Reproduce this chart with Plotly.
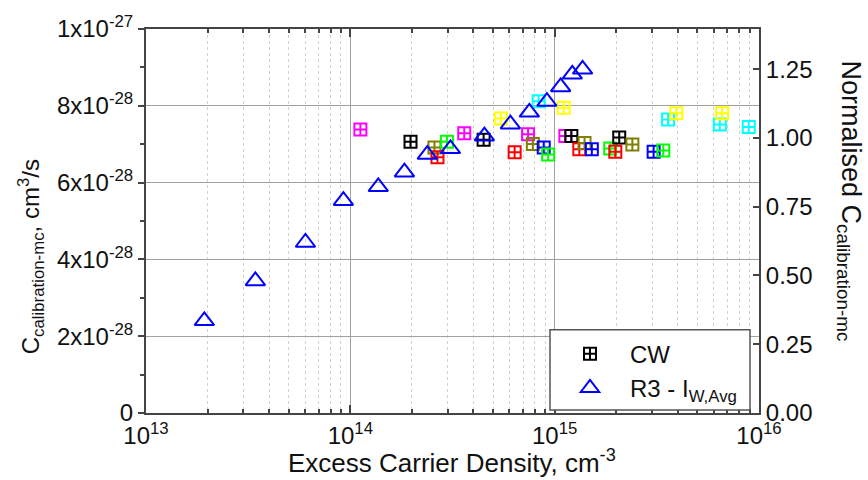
import plotly.graph_objects as go

# ---------------- data ----------------
# R3 - I_W,Avg series (left axis, cm^3/s)
r3_x = [1.93e13, 3.43e13, 6.03e13, 9.25e13, 1.37e14, 1.84e14, 2.38e14, 3.09e14,
        4.53e14, 6.07e14, 7.52e14, 9.16e14, 1.07e15, 1.22e15, 1.37e15]
r3_y = [2.40e-28, 3.44e-28, 4.44e-28, 5.53e-28, 5.89e-28, 6.27e-28, 6.73e-28, 6.88e-28,
        7.21e-28, 7.52e-28, 7.83e-28, 8.11e-28, 8.49e-28, 8.82e-28, 8.95e-28]

# CW series (right axis, normalised)
cw_x = [1.97e14, 1.12e14, 2.58e14, 2.67e14, 2.97e14, 3.61e14, 4.49e14, 5.45e14,
        6.37e14, 7.41e14, 7.82e14, 8.35e14, 8.84e14, 9.29e14, 1.107e15, 1.128e15,
        1.207e15, 1.32e15, 1.40e15, 1.52e15, 1.87e15, 1.98e15, 2.07e15, 2.40e15,
        3.05e15, 3.40e15, 3.59e15, 3.94e15, 6.43e15, 6.60e15, 8.91e15]
cw_y = [0.986, 1.031, 0.965, 0.930, 0.986, 1.017, 0.993, 1.071,
        0.948, 1.013, 0.978, 1.133, 0.965, 0.940, 1.110, 1.007,
        1.007, 0.959, 0.982, 0.959, 0.962, 0.950, 1.002, 0.976,
        0.950, 0.954, 1.067, 1.090, 1.049, 1.090, 1.040]
cw_color = ["#000000", "#ff00ff", "#808000", "#ff0000", "#00ff00", "#ff00ff", "#000000", "#ffff00",
            "#ff0000", "#ff00ff", "#808000", "#00ffff", "#0000ff", "#00ff00", "#ffff00", "#ff00ff",
            "#000000", "#ff0000", "#808000", "#0000ff", "#00ff00", "#ff0000", "#000000", "#808000",
            "#0000ff", "#00ff00", "#00ffff", "#ffff00", "#00ffff", "#ffff00", "#00ffff"]

x_tickvals = [1e13, 1e14, 1e15, 1e16]
x_ticktext = ["10<sup>13</sup>", "10<sup>14</sup>", "10<sup>15</sup>", "10<sup>16</sup>"]
x_minor = [m * 10 ** e for e in (13, 14, 15) for m in range(2, 10)]

yl_tickvals = [0, 2e-28, 4e-28, 6e-28, 8e-28, 1e-27]
yl_ticktext = ["0", "2x10<sup>-28</sup>", "4x10<sup>-28</sup>", "6x10<sup>-28</sup>",
               "8x10<sup>-28</sup>", "1x10<sup>-27</sup>"]
yl_minor = [1e-28, 3e-28, 5e-28, 7e-28, 9e-28]

yr_tickvals = [0, 0.25, 0.5, 0.75, 1.0, 1.25]
yr_ticktext = ["0.00", "0.25", "0.50", "0.75", "1.00", "1.25"]

FONT = "Liberation Sans, Arial, sans-serif"

fig = go.Figure()

fig.add_trace(go.Scatter(
    x=cw_x, y=cw_y, mode="markers", name="CW", yaxis="y",
    marker=dict(symbol="square-cross-open", size=12, color=cw_color,
                line=dict(width=2)),
))
fig.add_trace(go.Scatter(
    x=r3_x, y=r3_y, mode="markers", name="R3 - I<sub>W,Avg</sub>", yaxis="y2",
    marker=dict(symbol="triangle-up-open", size=17, color="#0000ff",
                line=dict(width=2)),
))

L, R, T, B = 146, 109, 21, 67
W, H = 868, 480
pw, ph = W - L - R, H - T - B


def px(xp):
    return (xp - L) / pw


def py(yp):
    return (H - B - yp) / ph


fig.update_layout(
    width=W, height=H,
    margin=dict(l=L, r=R, t=T, b=B, pad=0),
    paper_bgcolor="white", plot_bgcolor="white",
    font=dict(family=FONT, size=24, color="#111"),
    showlegend=True,
    xaxis=dict(
        type="log", range=[13, 16],
        tickvals=x_tickvals, ticktext=x_ticktext,
        ticks="inside", ticklen=8, tickwidth=1.5, tickcolor="#444",
        showline=True, linecolor="#444", linewidth=2, mirror="ticks",
        showgrid=True, gridcolor="#a0a0a0", gridwidth=1,
        tickfont=dict(size=24),
        minor=dict(tickvals=x_minor, ticks="inside", ticklen=4, tickcolor="#444",
                   showgrid=True, gridcolor="#d0d0d0", griddash="dot", gridwidth=1),
        zeroline=False,
    ),
    yaxis=dict(
        side="right", range=[0, 1.396],
        tickvals=yr_tickvals, ticktext=yr_ticktext,
        ticks="inside", ticklen=6, tickwidth=1.5, tickcolor="#444",
        showline=True, linecolor="#444", linewidth=2,
        showgrid=False, zeroline=False,
        tickfont=dict(size=24),
    ),
    yaxis2=dict(
        side="left", overlaying="y", range=[0, 1e-27],
        tickvals=yl_tickvals, ticktext=yl_ticktext,
        ticks="outside", ticklen=6, tickwidth=1.5, tickcolor="#444",
        showline=True, linecolor="#444", linewidth=2,
        showgrid=True, gridcolor="#a0a0a0", gridwidth=1, zeroline=False,
        tickfont=dict(size=24),
        minor=dict(tickvals=yl_minor, ticks="outside", ticklen=4, tickcolor="#444",
                   showgrid=False),
    ),
    legend=dict(
        x=px(550), y=py(330), xanchor="left", yanchor="top",
        bgcolor="rgba(0,0,0,0)", borderwidth=0,
        font=dict(size=24, family=FONT, color="#111"),
        itemwidth=70, tracegroupgap=0,
    ),
    shapes=[dict(type="rect", xref="paper", yref="paper",
                 x0=px(550), x1=px(750), y0=py(410), y1=py(328),
                 line=dict(color="#555", width=1.5), fillcolor="white", layer="above")],
    annotations=[
        dict(text="C<sub>calibration-mc</sub>, cm<sup>3</sup>/s", textangle=-90,
             xref="paper", yref="paper", x=px(31), y=py(254),
             xanchor="center", yanchor="middle", showarrow=False,
             font=dict(size=24, family=FONT, color="#111")),
        dict(text="Normalised C<sub>calibration-mc</sub>", textangle=90,
             xref="paper", yref="paper", x=px(849), y=py(196),
             xanchor="center", yanchor="middle", showarrow=False,
             font=dict(size=27, family=FONT, color="#111")),
        dict(text="Excess Carrier Density, cm<sup>-3</sup>",
             xref="paper", yref="paper", x=px(452), y=py(462),
             xanchor="center", yanchor="middle", showarrow=False,
             font=dict(size=26, family=FONT, color="#111")),
    ],
)

fig.write_html("out.html")
